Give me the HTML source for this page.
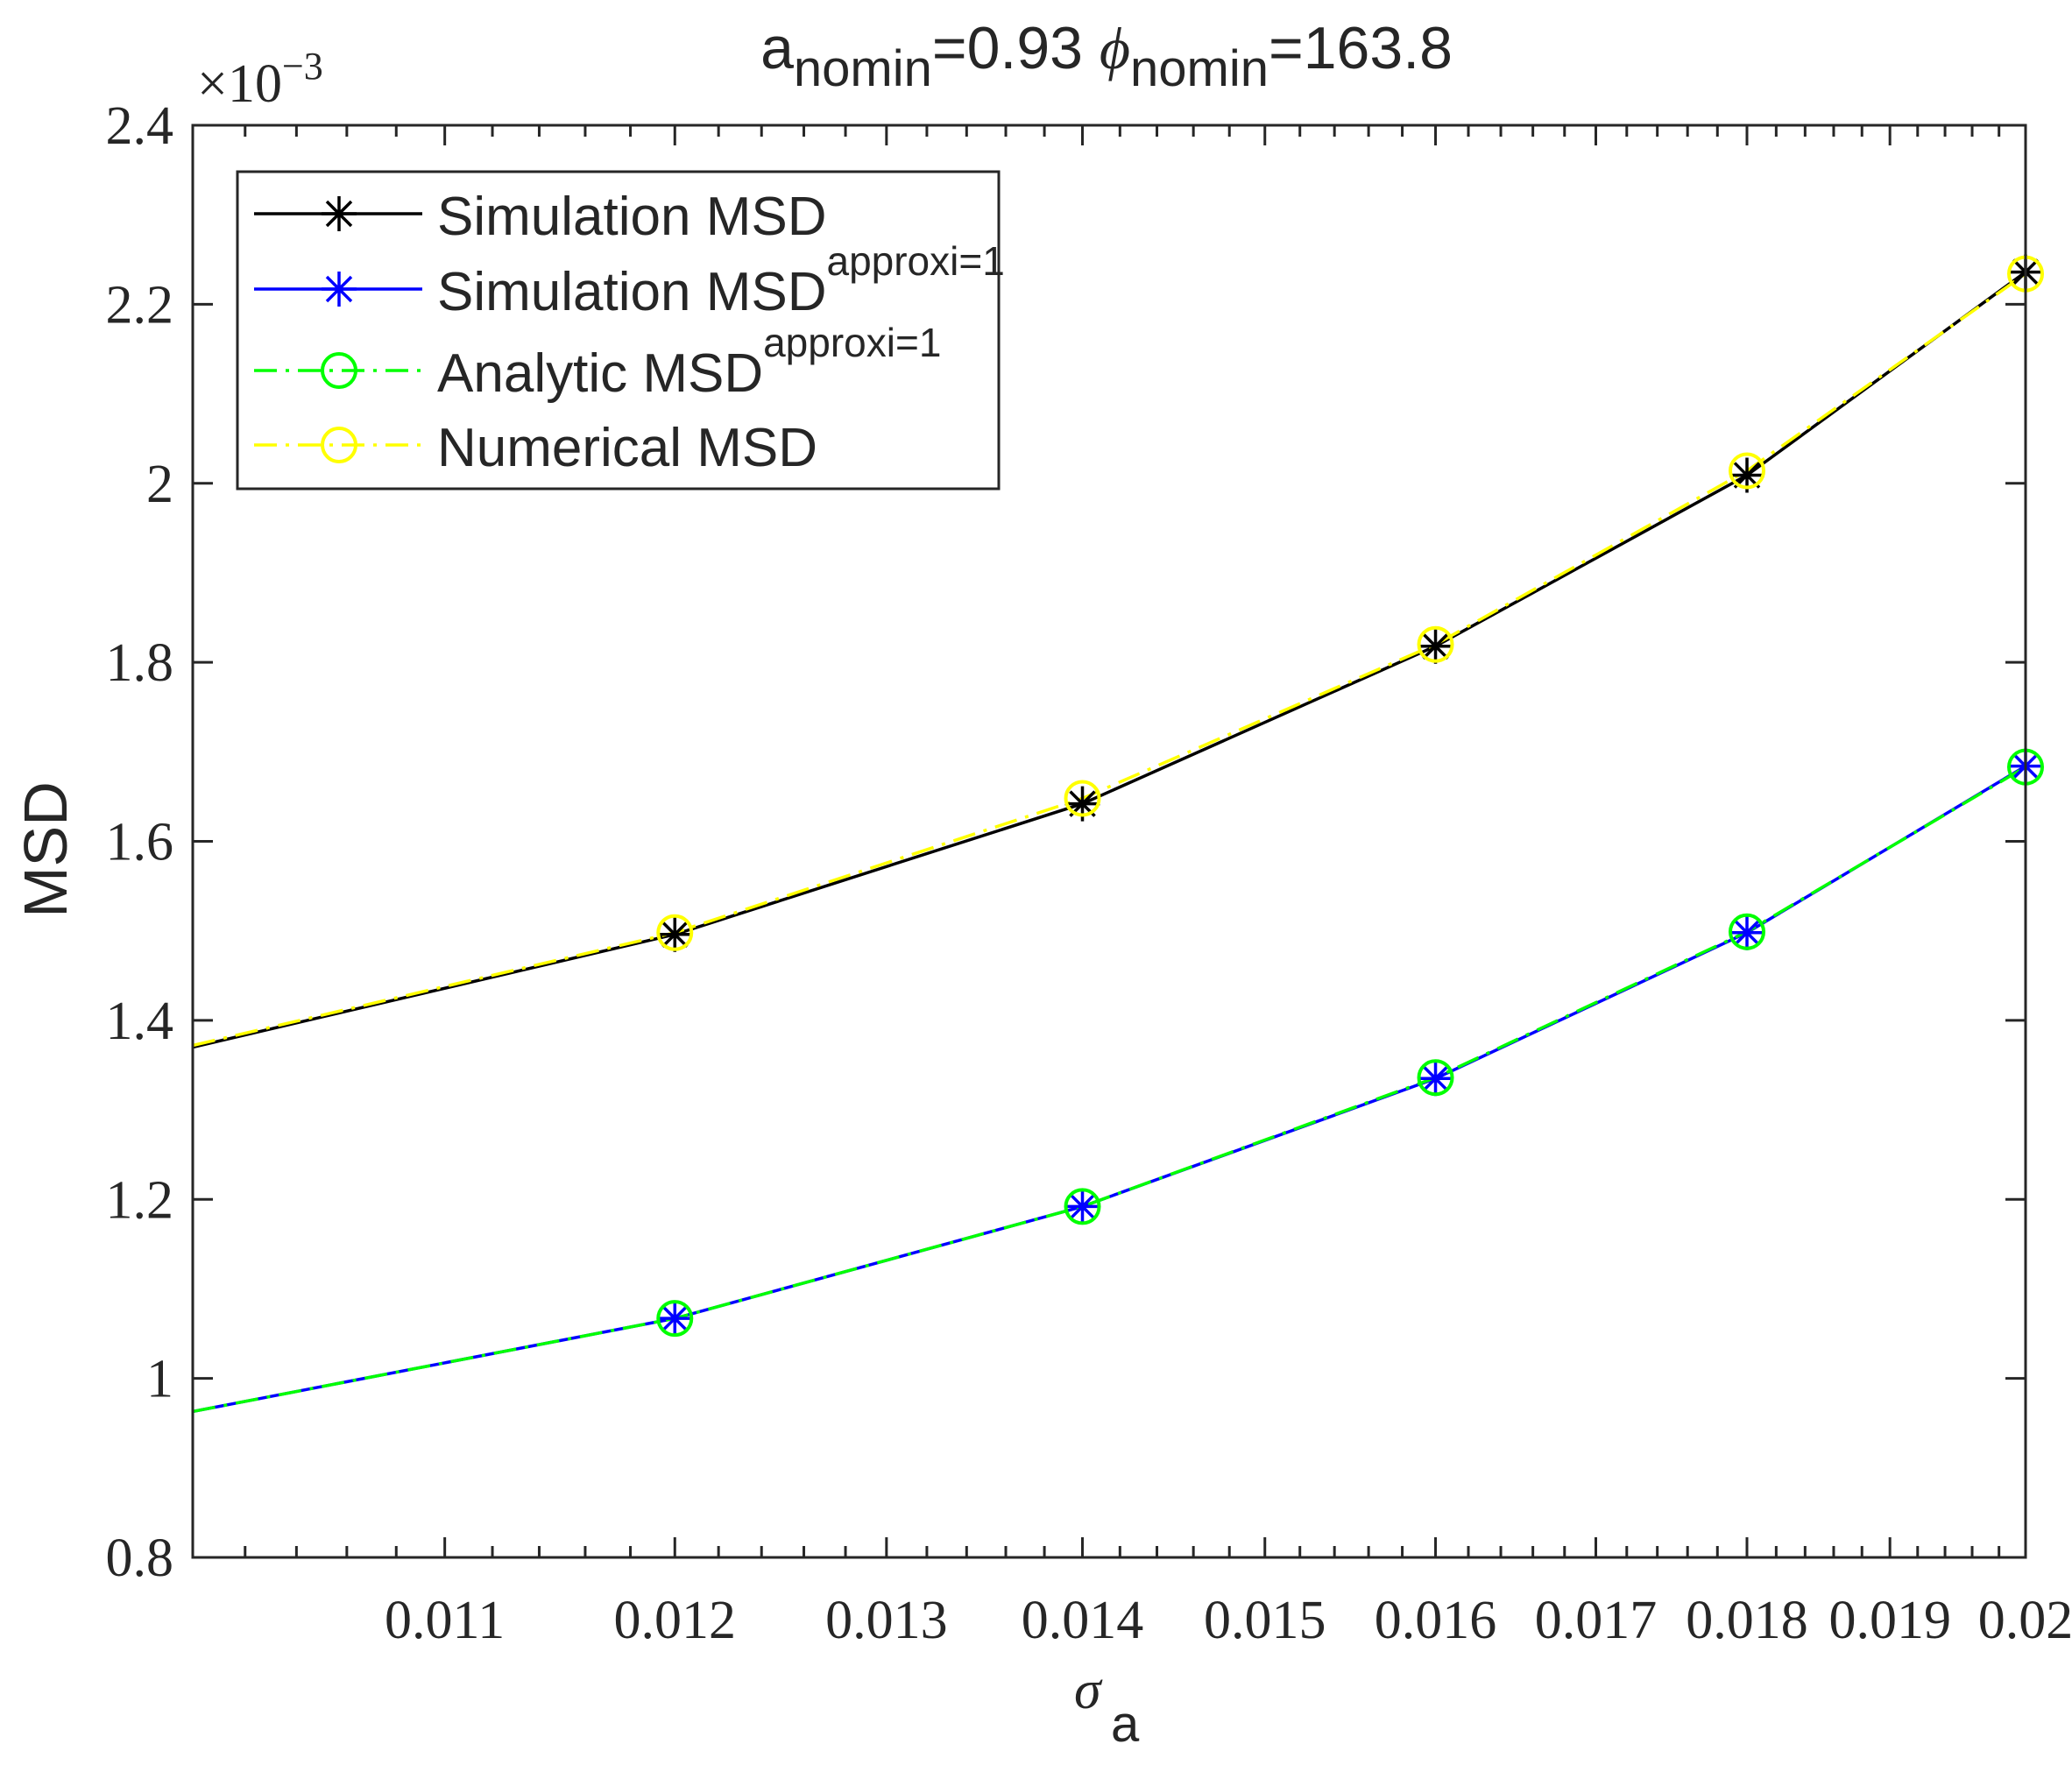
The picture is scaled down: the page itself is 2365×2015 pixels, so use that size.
<!DOCTYPE html>
<html><head><meta charset="utf-8"><style>
html,body{margin:0;padding:0;background:#fff;}
svg{display:block;}
.t{font-family:"Liberation Serif",serif;font-size:62px;fill:#262626;}
.s{font-family:"Liberation Sans",sans-serif;fill:#262626;}
</style></head><body>
<svg id="c" width="2365" height="2015" xmlns="http://www.w3.org/2000/svg">
<rect width="2365" height="2015" fill="#fff"/>
<g id="g"></g>
<text class="s" x="1263" y="78" font-size="68" text-anchor="middle">a<tspan font-size="58" dy="20">nomin</tspan><tspan dy="-20">=0.93 </tspan><tspan font-family="Liberation Serif" font-style="italic">ϕ</tspan><tspan font-size="58" dy="20">nomin</tspan><tspan dy="-20">=163.8</tspan></text>
<text class="t" x="225" y="116" font-size="62">×10<tspan font-size="44" dy="-26">−3</tspan></text>
<text class="s" font-size="70" transform="translate(76,970) rotate(-90)" text-anchor="middle">MSD</text>
<text class="t" x="1226" y="1950" font-size="76" font-style="italic">σ</text>
<text class="s" x="1268" y="1988" font-size="58">a</text>
</svg>
<script>
var g=document.getElementById('g');var h='';
var L=220,R=2312,T=143,B=1778;
function X(v){return L+Math.log(v/0.01)/Math.log(2)*(R-L);}
function Y(v){return T+(2.4-v)/0.2*((B-T)/8);}
for(var k=1;k<50;k++){var v=0.01+k*0.0002;var x=X(v);var len=(k%5==0)?23:13;
h+='<line x1="'+x+'" y1="'+B+'" x2="'+x+'" y2="'+(B-len)+'" stroke="#262626" stroke-width="3"/>';
h+='<line x1="'+x+'" y1="'+T+'" x2="'+x+'" y2="'+(T+len)+'" stroke="#262626" stroke-width="3"/>';}
var xl=['0.011','0.012','0.013','0.014','0.015','0.016','0.017','0.018','0.019','0.02'];
for(var i=0;i<xl.length;i++){var x=X(parseFloat(xl[i]));h+='<text class="t" x="'+x+'" y="1870" text-anchor="middle">'+xl[i]+'</text>';}
var yl=['0.8','1','1.2','1.4','1.6','1.8','2','2.2','2.4'];
for(var i=0;i<yl.length;i++){var y=Y(parseFloat(yl[i]));
h+='<line x1="'+L+'" y1="'+y+'" x2="'+(L+23)+'" y2="'+y+'" stroke="#262626" stroke-width="3"/>';
h+='<line x1="'+R+'" y1="'+y+'" x2="'+(R-23)+'" y2="'+y+'" stroke="#262626" stroke-width="3"/>';
h+='<text class="t" x="'+(L-22)+'" y="'+(y+21)+'" text-anchor="end">'+yl[i]+'</text>';}
var xs=[0.01,0.012,0.014,0.016,0.018,0.02];
var S={
k:[1.370,1.496,1.642,1.818,2.009,2.236],
b:[0.963,1.067,1.192,1.335,1.498,1.684],
gr:[0.963,1.067,1.192,1.336,1.499,1.683],
y:[1.372,1.498,1.648,1.820,2.014,2.234]};
function pts(a){var s='';for(var i=0;i<xs.length;i++)s+=X(xs[i])+','+Y(a[i])+' ';return s;}
function star(x,y,c){var r=20,d=14;return '<path d="M'+(x-r)+' '+y+'H'+(x+r)+'M'+x+' '+(y-r)+'V'+(y+r)+'M'+(x-d)+' '+(y-d)+'L'+(x+d)+' '+(y+d)+'M'+(x-d)+' '+(y+d)+'L'+(x+d)+' '+(y-d)+'" stroke="'+c+'" stroke-width="3.5" fill="none"/>';}
function circ(x,y,c){return '<circle cx="'+x+'" cy="'+y+'" r="19" stroke="'+c+'" stroke-width="4" fill="none"/>';}
h+='<polyline points="'+pts(S.k)+'" fill="none" stroke="#000" stroke-width="3.5"/>';
h+='<polyline points="'+pts(S.y)+'" fill="none" stroke="#ffff00" stroke-width="3.5" stroke-dasharray="26,10,4,10"/>';
h+='<polyline points="'+pts(S.b)+'" fill="none" stroke="#0000ff" stroke-width="3.5"/>';
h+='<polyline points="'+pts(S.gr)+'" fill="none" stroke="#00ff00" stroke-width="3.5" stroke-dasharray="26,10,4,10"/>';
for(var i=1;i<xs.length;i++){var x=X(xs[i]);
h+=star(x,Y(S.k[i]),'#000')+circ(x,Y(S.y[i]),'#ffff00')+star(x,Y(S.b[i]),'#0000ff')+circ(x,Y(S.gr[i]),'#00ff00');}
h+='<rect x="'+L+'" y="'+T+'" width="'+(R-L)+'" height="'+(B-T)+'" fill="none" stroke="#262626" stroke-width="3"/>';
h+='<rect x="271" y="196" width="869" height="362" fill="#fff" stroke="#262626" stroke-width="3"/>';
var rows=[[244,'#000','none','star','Simulation MSD',''],[330,'#0000ff','none','star','Simulation MSD','approxi=1'],[423,'#00ff00','26,10,4,10','circ','Analytic MSD','approxi=1'],[508,'#ffff00','26,10,4,10','circ','Numerical MSD','']];
for(var i=0;i<rows.length;i++){var r=rows[i];
h+='<line x1="290" y1="'+r[0]+'" x2="482" y2="'+r[0]+'" stroke="'+r[1]+'" stroke-width="3.5" stroke-dasharray="'+r[2]+'"/>';
h+=(r[3]=='star'?star(387,r[0],r[1]):circ(387,r[0],r[1]));
h+='<text class="s" x="499" y="'+(r[0]+24)+'" font-size="62">'+r[4]+(r[5]?'<tspan font-size="46" dy="-40">'+r[5]+'</tspan>':'')+'</text>';}
g.innerHTML=h;
</script>
</body></html>
